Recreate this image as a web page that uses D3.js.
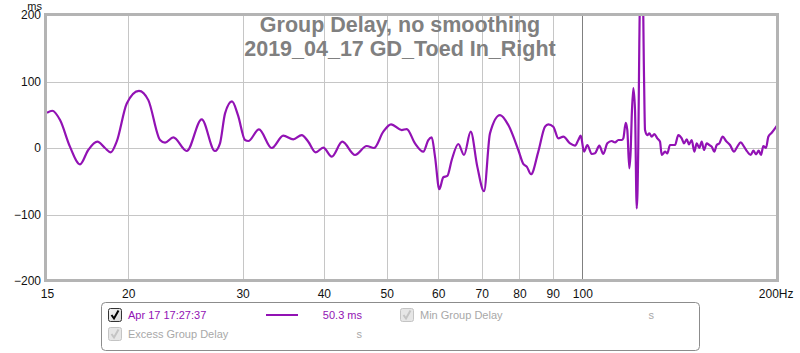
<!DOCTYPE html>
<html>
<head>
<meta charset="utf-8">
<script src="https://cdn.jsdelivr.net/npm/d3@7"></script>
<style>
  body { margin: 0; background: #fff; }
  svg { display: block; font-family: "Liberation Sans", Arial, sans-serif; }
</style>
</head>
<body>
<svg id="chart" width="800" height="353"></svg>
<script>
const freqHz = [
  15.00, 15.28, 15.71, 16.27, 16.86, 17.36, 17.93, 18.42, 18.80, 19.20,
  19.90, 20.78, 21.48, 22.39, 22.79, 23.47, 24.61, 25.95, 27.20, 27.69,
  28.19, 28.89, 29.51, 30.26, 30.61, 31.79, 33.26, 34.65, 35.90, 36.99,
  37.86, 38.87, 39.93, 41.14, 42.71, 44.68, 46.57, 47.79, 49.39, 50.76,
  52.72, 53.66, 55.26, 56.91, 57.93, 58.63, 59.32, 60.23, 61.09, 61.96,
  62.94, 64.43, 65.74, 67.32, 68.91, 70.57, 72.08, 74.69, 76.92, 79.69,
  81.11, 82.10, 83.36, 85.54, 87.60, 88.63, 90.21, 91.82, 93.47, 95.71,
  97.42, 98.57, 99.41, 100.58, 101.76, 103.36, 104.58, 106.18, 107.70, 109.24,
  110.95, 112.26, 113.58, 114.96, 115.61, 116.60, 117.26, 118.09, 118.68, 119.10,
  119.78, 120.50, 121.23, 121.92, 122.35, 122.87, 123.75, 124.41, 124.85, 125.87,
  126.77, 127.85, 129.03, 130.41, 131.66, 132.46, 134.02, 135.11, 136.41, 138.85,
  140.48, 142.19, 143.35, 144.73, 145.91, 147.32, 148.68, 149.95, 151.34, 152.63,
  153.88, 155.36, 156.80, 158.14, 159.60, 160.96, 162.45, 164.42, 166.36, 168.73,
  171.14, 173.15, 175.25, 177.31, 179.40, 181.57, 183.25, 185.02, 186.80, 188.32,
  189.86, 191.69, 193.26, 195.60, 197.90, 200.00
];
const delayMs = [
  53, 56, 42, 2, -24.5, -3, 9.5, 0, -6.5, 9.5,
  67, 86, 72, 12, 8, 16, -4.5, 43, -4.5, 7,
  52, 70, 49.5, 12, 10.5, 28, 0, 18.5, 13, 19.5,
  9.5, -6.5, 0.5, -13, 9.5, -10.5, 3, 0, 24.5, 35.5,
  27, 28.5, 7, -5.5, 12, 16, -13, -62, -44, -42,
  -18, 6, -10.5, 24.5, -28, -65, 22, 49.5, 34.5, -3,
  -24, -28, -39.5, -5.5, 32, 35.5, 32, 14.5, 17, 7,
  3.5, 12, 18.5, -5.5, 4.5, -9, -8, 3.5, -9, 7,
  10.5, 8.5, 12, 12, 14.5, 38, 27, -30.5, -3, 47,
  90, 57, -91, 7, 157, 260, 260, 107, 27, 19.5,
  22, 17, 21, 14.5, 9.5, -10.5, -5.5, -8, 4.5, 4.5,
  19.5, 14.5, 7, 13, 5.5, 12, -5.5, 7, 0, 9.5,
  -3, 7, 4.5, 2, -5.5, 4.5, 7, 17, 10.5, 4.5,
  -5.5, 2, 8.5, 2, -5.5, -10.5, -4, -9.5, -4, -10.5,
  3, 0, 17, 23, 29.5, 36
];

const xTicks = [15, 20, 30, 40, 50, 60, 70, 80, 90, 100, 200];
const xGrid = [20, 30, 40, 50, 60, 70, 80, 90, 100];
const yTicks = [-200, -100, 0, 100, 200];

const titleLines = ["Group Delay, no smoothing", "2019_04_17 GD_Toed In_Right"];

const legendRows = [
  { label: "Apr 17 17:27:37", value: "50.3 ms", active: true },
  { label: "Min Group Delay", value: "s", active: false },
  { label: "Excess Group Delay", value: "s", active: false }
];

const lineColor = "#9212b4";
const svg = d3.select("#chart");

const plot = { left: 47, right: 778, top: 15, bottom: 281 };

const x = d3.scaleLog().domain([15, 200]).range([plot.left, plot.right]);
const y = d3.scaleLinear().domain([-200, 200]).range([plot.bottom, plot.top]);

// gridlines
const grid = svg.append("g").attr("class", "grid");
grid.selectAll("line.v")
  .data(xGrid)
  .join("line")
    .attr("class", "v")
    .attr("x1", d => Math.round(x(d)) + 0.5)
    .attr("x2", d => Math.round(x(d)) + 0.5)
    .attr("y1", plot.top)
    .attr("y2", plot.bottom)
    .attr("stroke", d => d === 100 ? "#808080" : "#c6c6c6")
    .attr("stroke-width", 1);
grid.selectAll("line.h")
  .data(yTicks.filter(d => d > -200 && d < 200))
  .join("line")
    .attr("class", "h")
    .attr("x1", plot.left)
    .attr("x2", plot.right)
    .attr("y1", d => Math.round(y(d)) + 0.5)
    .attr("y2", d => Math.round(y(d)) + 0.5)
    .attr("stroke", "#c6c6c6")
    .attr("stroke-width", 1);

// the trace, clipped to the plot area
svg.append("clipPath").attr("id", "clip")
  .append("rect")
    .attr("x", plot.left)
    .attr("y", plot.top)
    .attr("width", plot.right - plot.left)
    .attr("height", plot.bottom - plot.top);

const points = freqHz.map((f, i) => [f, delayMs[i]]);
const line = d3.line()
  .x(d => x(d[0]))
  .y(d => y(d[1]))
  .curve(d3.curveMonotoneX);

svg.append("path")
  .datum(points)
  .attr("clip-path", "url(#clip)")
  .attr("fill", "none")
  .attr("stroke", lineColor)
  .attr("stroke-width", 2.2)
  .attr("stroke-linejoin", "round")
  .attr("d", line);

// frame around the plot
svg.append("rect")
  .attr("x", plot.left - 1.5)
  .attr("y", plot.top - 0.5)
  .attr("width", plot.right - plot.left + 1)
  .attr("height", plot.bottom - plot.top)
  .attr("fill", "none")
  .attr("stroke", "#b4b4b4")
  .attr("stroke-width", 3);

// axes: labels only, no domain or tick marks
const yAxis = d3.axisLeft(y).tickValues(yTicks).tickSize(0).tickPadding(5);
svg.append("g")
  .attr("transform", `translate(${plot.left - 1},0)`)
  .call(yAxis)
  .call(g => g.select(".domain").remove())
  .call(g => g.selectAll("text")
    .attr("font-family", "Liberation Sans, Arial, sans-serif")
    .attr("font-size", 12).attr("fill", "#111"));

svg.append("text")
  .attr("x", 42).attr("y", 9.5)
  .attr("text-anchor", "end")
  .attr("font-size", 11)
  .attr("fill", "#111")
  .text("ms");

const xAxis = d3.axisBottom(x)
  .tickValues(xTicks)
  .tickFormat(d => d === 200 ? "200Hz" : d)
  .tickSize(0)
  .tickPadding(8);
svg.append("g")
  .attr("transform", `translate(0,${plot.bottom})`)
  .call(xAxis)
  .call(g => g.select(".domain").remove())
  .call(g => g.selectAll("text")
    .attr("font-family", "Liberation Sans, Arial, sans-serif")
    .attr("font-size", 12).attr("fill", "#111")
    .attr("text-anchor", d => d === 200 ? "end" : "middle")
    .attr("dx", d => d === 200 ? 15 : 0));

// title
svg.append("g")
  .selectAll("text")
  .data(titleLines)
  .join("text")
    .attr("x", 400)
    .attr("y", (d, i) => 32 + i * 24)
    .attr("text-anchor", "middle")
    .attr("font-size", 21.5)
    .attr("font-weight", "bold")
    .attr("fill", "#808080")
    .text(d => d);

// legend
const legend = svg.append("g").attr("class", "legend");
legend.append("rect")
  .attr("x", 101.5).attr("y", 302.5)
  .attr("width", 598).attr("height", 48)
  .attr("rx", 4)
  .attr("fill", "#fff")
  .attr("stroke", "#8c8c8c");

const defs = svg.append("defs");
const grad = defs.append("linearGradient").attr("id", "boxfill")
  .attr("x1", 0).attr("y1", 0).attr("x2", 1).attr("y2", 1);
grad.append("stop").attr("offset", 0).attr("stop-color", "#f4f4f4");
grad.append("stop").attr("offset", 1).attr("stop-color", "#d6d6d6");

const slots = [[108, 308], [400, 308], [108, 327]];
const entry = legend.selectAll("g.entry")
  .data(legendRows)
  .join("g")
    .attr("class", "entry")
    .attr("transform", (d, i) => `translate(${slots[i][0]},${slots[i][1]})`);

entry.append("rect")
  .attr("x", 0.5).attr("y", 0.5)
  .attr("width", 13).attr("height", 13)
  .attr("rx", 2)
  .attr("fill", d => d.active ? "url(#boxfill)" : "#e6e6e6")
  .attr("stroke", d => d.active ? "#333" : "#c4c4c4");

entry.append("path")
  .attr("d", "M3.5,7 L6,10.5 L10.5,2.5")
  .attr("fill", "none")
  .attr("stroke", d => d.active ? "#000" : "#c4c4c4")
  .attr("stroke-width", 2);

entry.append("text")
  .attr("x", 20).attr("y", 11)
  .attr("font-size", 11)
  .attr("fill", d => d.active ? lineColor : "#a8a8a8")
  .text(d => d.label);

entry.filter(d => d.active).append("line")
  .attr("x1", 158).attr("x2", 190)
  .attr("y1", 7).attr("y2", 7)
  .attr("stroke", lineColor)
  .attr("stroke-width", 2);

entry.append("text")
  .attr("x", 254)
  .attr("y", 11)
  .attr("text-anchor", "end")
  .attr("font-size", 11)
  .attr("fill", d => d.active ? lineColor : "#a8a8a8")
  .text(d => d.value);
</script>
</body>
</html>
